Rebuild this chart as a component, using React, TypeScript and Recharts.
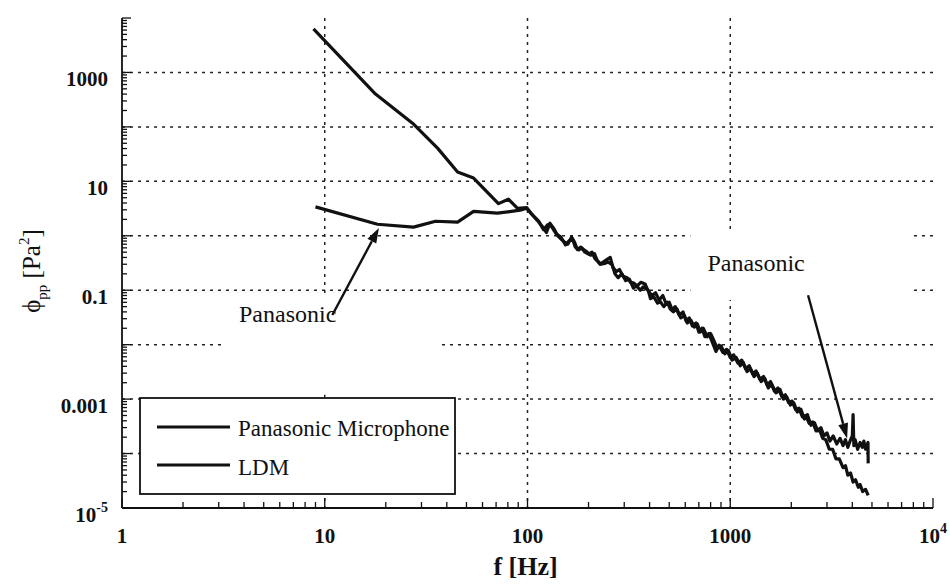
import React from "react";
import {
  ComposedChart,
  Line,
  XAxis,
  YAxis,
  CartesianGrid,
  ReferenceArea,
  ReferenceLine,
} from "recharts";

const FONT = "Liberation Serif, Times New Roman, DejaVu Serif, serif";

// axis decades and tick labels
const xDecades = [1, 10, 100, 1000, 10000];
const xTickLabels = ["1", "10", "100", "1000", "10^4"];
const yDecades = [1e-5, 1e-4, 1e-3, 1e-2, 1e-1, 1, 10, 100, 1000, 10000];
const yLabelValues = [1e-5, 1e-3, 1e-1, 10, 1000];
const yTickLabels = ["10^-5", "0.001", "0.1", "10", "1000"];
const minorSteps = [2, 3, 4, 5, 6, 7, 8, 9];
const xGridValues = [10, 100, 1000];
const yGridValues = [1e-4, 1e-3, 1e-2, 1e-1, 1, 10, 100, 1000];
const xDomain = [1, 10000];
const yDomain = [1e-5, 10000];

// Panasonic microphone spectrum
const pFreq = [
  9.0, 18.2, 27.4, 35.2, 45.2, 54.2, 71, 92, 99, 106, 113, 120, 126, 131, 138, 146, 154, 160, 167, 172,
  179, 185, 192, 200, 208, 215, 222, 230, 240, 250, 262, 270, 280, 292, 305, 318, 333, 345, 360, 372,
  394, 404, 420, 438, 452, 470, 490, 506, 524, 545, 570, 595, 614, 640, 665, 688, 712, 736, 770, 800,
  830, 863, 900, 940, 980, 1020, 1070, 1120, 1160, 1210, 1260, 1310, 1360, 1420, 1480, 1540, 1600, 1680, 1760, 1830,
  1900, 1980, 2060, 2140, 2230, 2320, 2400, 2500, 2600, 2700, 2800, 2900, 3000, 3100, 3220, 3350, 3480, 3600, 3700, 3800,
  3900, 4000, 4035, 4070, 4130, 4250, 4370, 4480, 4560, 4650, 4780, 4790,
];
const pVal = [
  3.4, 1.63, 1.44, 1.85, 1.78, 2.8, 2.6, 2.95, 3.2, 2.4, 1.9, 1.3, 1.6, 1.5, 1.1, 0.95, 0.68, 0.8, 0.86, 0.62,
  0.55, 0.6, 0.5, 0.46, 0.5, 0.38, 0.34, 0.3, 0.31, 0.33, 0.29, 0.2, 0.17, 0.2, 0.15, 0.16, 0.11, 0.12, 0.1, 0.115,
  0.1, 0.07, 0.075, 0.058, 0.062, 0.05, 0.06, 0.045, 0.04, 0.046, 0.031, 0.034, 0.025, 0.028, 0.021, 0.024, 0.017, 0.02, 0.014, 0.016,
  0.012, 0.0085, 0.0095, 0.0068, 0.0078, 0.0052, 0.0058, 0.0041, 0.0047, 0.0032, 0.0036, 0.0026, 0.003, 0.0021, 0.0024, 0.0016, 0.0019, 0.0013, 0.0015, 0.001,
  0.0011, 0.00078, 0.00085, 0.00058, 0.00065, 0.00043, 0.00052, 0.00033, 0.00037, 0.00026, 0.0003, 0.00021, 0.00024, 0.00017, 0.00021, 0.00015, 0.00019, 0.00014, 0.00018, 0.00013,
  0.00017, 0.00021, 0.00052, 0.00014, 0.00018, 0.00012, 0.00016, 0.00013, 0.00017, 0.00012, 0.00016, 0.000066,
];

// LDM spectrum
const lFreq = [
  8.8, 17.8, 27.1, 36, 45.2, 54.2, 71.9, 80.5, 89.3, 99, 104, 112, 118, 124, 129, 135, 141, 150, 158, 165,
  171, 176, 183, 190, 197, 205, 214, 220, 228, 236, 245, 256, 264, 275, 284, 296, 310, 322, 335, 348,
  362, 380, 392, 410, 428, 446, 465, 484, 500, 518, 535, 560, 585, 606, 628, 650, 678, 700, 725, 750,
  785, 820, 850, 880, 920, 960, 1000, 1040, 1090, 1140, 1190, 1240, 1290, 1340, 1400, 1460, 1520, 1580, 1650, 1720,
  1800, 1870, 1940, 2020, 2100, 2180, 2270, 2360, 2450, 2550, 2650, 2750, 2860, 2960, 3080, 3200, 3320, 3450, 3600, 3700,
  3800, 3920, 4035, 4150, 4280, 4370, 4500, 4650, 4790,
];
const lVal = [
  6300, 400, 117, 40.7, 14.8, 11.5, 3.9, 4.7, 3.2, 3.3, 2.6, 1.9, 1.5, 1.15, 1.7, 1.35, 1.0, 0.8, 0.7, 0.95,
  0.75, 0.56, 0.62, 0.55, 0.5, 0.44, 0.47, 0.36, 0.3, 0.33, 0.36, 0.4, 0.26, 0.22, 0.24, 0.18, 0.17, 0.14, 0.135, 0.12,
  0.14, 0.13, 0.1, 0.08, 0.09, 0.066, 0.08, 0.055, 0.06, 0.043, 0.05, 0.035, 0.04, 0.027, 0.031, 0.022, 0.025, 0.017, 0.02, 0.014,
  0.016, 0.0105, 0.0075, 0.0098, 0.0072, 0.0082, 0.0058, 0.0065, 0.0046, 0.0052, 0.0036, 0.0041, 0.0029, 0.0033, 0.0023, 0.0026, 0.0018, 0.0021, 0.0014, 0.0016,
  0.0011, 0.0012, 0.00086, 0.00092, 0.00064, 0.00068, 0.00047, 0.0005, 0.00036, 0.00038, 0.00026, 0.00028, 0.00019, 0.00018, 0.00012, 0.00012, 0.00008, 0.00008, 0.000055, 0.00006,
  0.00004, 0.000044, 0.00003, 0.000033, 0.000024, 0.000027, 0.00002, 0.000022, 0.000017,
];

const panasonicData = pFreq.map((f, i) => ({ f, v: pVal[i] }));
const ldmData = lFreq.map((f, i) => ({ f, v: lVal[i] }));

const withMinors = (decades: number[]) =>
  decades.flatMap((d, i) => (i < decades.length - 1 ? [d, ...minorSteps.map((m) => d * m)] : [d]));
const xTicks = withMinors(xDecades);
const yTicks = withMinors(yDecades);

const same = (a: number, b: number) => Math.abs(Math.log10(a / b)) < 1e-6;
const isDecade = (list: number[], v: number) => list.some((d) => same(d, v));

// place a value on a log axis; use the axis scale when the grid hands one over
const logPos = (axis: any, v: number, start: number, size: number, dom: number[], flip: boolean) => {
  const s = axis && axis.scale;
  if (typeof s === "function") return s(v);
  if (s && typeof s.map === "function") return s.map(v);
  const t = (Math.log10(v) - Math.log10(dom[0])) / (Math.log10(dom[1]) - Math.log10(dom[0]));
  return flip ? start + size * (1 - t) : start + size * t;
};

const serif = { fontFamily: FONT };

const TickText = ({ x, y, label, anchor }: any) => {
  const [base, exp] = label.split("^");
  return (
    <text x={x} y={y} textAnchor={anchor} style={serif} fontSize={21} fontWeight="bold" fill="#111">
      {base}
      {exp && (
        <tspan dy={-10} fontSize={14}>
          {exp}
        </tspan>
      )}
    </text>
  );
};

const BottomTick = (props: any) => {
  const { x, y, payload } = props;
  const major = isDecade(xDecades, payload.value);
  const idx = xDecades.findIndex((d) => same(d, payload.value));
  return (
    <g>
      <line x1={x} x2={x} y1={y} y2={y - (major ? 10 : 6)} stroke="#111" strokeWidth={1.3} />
      {idx >= 0 && <TickText x={x} y={y + 35} label={xTickLabels[idx]} anchor="middle" />}
    </g>
  );
};

const TopTick = (props: any) => {
  const { x, y, payload } = props;
  const major = isDecade(xDecades, payload.value);
  return <line x1={x} x2={x} y1={y} y2={y + (major ? 10 : 6)} stroke="#111" strokeWidth={1.3} />;
};

const LeftTick = (props: any) => {
  const { x, y, payload } = props;
  const major = isDecade(yDecades, payload.value);
  const idx = yLabelValues.findIndex((d) => same(d, payload.value));
  return (
    <g>
      <line x1={x} x2={x + (major ? 9 : 5)} y1={y} y2={y} stroke="#111" strokeWidth={1.3} />
      {idx >= 0 && <TickText x={x - 14} y={y + 14} label={yTickLabels[idx]} anchor="end" />}
    </g>
  );
};

const RightTick = (props: any) => {
  const { x, y, payload } = props;
  const major = isDecade(yDecades, payload.value);
  return <line x1={x} x2={x - (major ? 9 : 5)} y1={y} y2={y} stroke="#111" strokeWidth={1.3} />;
};

const YLabel = (props: any) => {
  const vb = props.viewBox;
  const cx = vb.x + 40;
  const cy = vb.y + vb.height / 2 + 8;
  return (
    <text
      x={cx}
      y={cy}
      transform={`rotate(-90 ${cx} ${cy})`}
      textAnchor="middle"
      style={serif}
      fontSize={25}
      fill="#111"
    >
      ϕ
      <tspan dy={7} fontSize={15}>
        pp
      </tspan>
      <tspan dy={-7}> [Pa</tspan>
      <tspan dy={-11} fontSize={15}>
        2
      </tspan>
      <tspan dy={11}>]</tspan>
    </text>
  );
};

const XLabel = (props: any) => {
  const vb = props.viewBox;
  return (
    <text
      x={vb.x + vb.width / 2 - 2}
      y={vb.y + 67}
      textAnchor="middle"
      style={serif}
      fontSize={26}
      fontWeight="bold"
      fill="#111"
    >
      f [Hz]
    </text>
  );
};

// arrow with its annotation text, drawn from tail (first point) to head
const arrowShape = (text: string, tx: number, ty: number, anchor: string) => (props: any) => {
  const { x1, y1, x2, y2 } = props;
  const a = Math.atan2(y2 - y1, x2 - x1);
  const len = 15;
  const w = 5;
  const bx = x2 - len * Math.cos(a);
  const by = y2 - len * Math.sin(a);
  const px = -Math.sin(a) * w;
  const py = Math.cos(a) * w;
  return (
    <g>
      <line x1={x1} y1={y1} x2={bx} y2={by} stroke="#111" strokeWidth={2.4} />
      <polygon points={`${x2},${y2} ${bx + px},${by + py} ${bx - px},${by - py}`} fill="#111" />
      <text x={x1 + tx} y={y1 + ty} textAnchor={anchor} style={serif} fontSize={24} fill="#111">
        {text}
      </text>
    </g>
  );
};

export default function App() {
  return (
    <div style={{ position: "absolute", left: 0, top: 0, width: 950, height: 586, background: "#fff" }}>
      <ComposedChart width={950} height={586} margin={{ top: 18, right: 17, bottom: 0, left: 0 }}>
        <CartesianGrid
          stroke="#222"
          strokeWidth={1.5}
          strokeDasharray="3 5"
          horizontalCoordinatesGenerator={(p: any) =>
            yGridValues.map((v) =>
              logPos(p.yAxis, v, p.offset.top, p.offset.height, yDomain, true)
            )
          }
          verticalCoordinatesGenerator={(p: any) =>
            xGridValues.map((v) =>
              logPos(p.xAxis, v, p.offset.left, p.offset.width, xDomain, false)
            )
          }
        />
        <XAxis
          dataKey="f"
          type="number"
          scale="log"
          domain={xDomain}
          allowDataOverflow
          ticks={xTicks}
          interval={0}
          tickSize={0}
          tickMargin={0}
          height={78}
          tick={BottomTick}
          axisLine={{ stroke: "#111", strokeWidth: 1.8 }}
          label={<XLabel />}
        />
        <XAxis
          xAxisId="top"
          orientation="top"
          dataKey="f"
          type="number"
          scale="log"
          domain={xDomain}
          allowDataOverflow
          ticks={xTicks}
          interval={0}
          tickSize={0}
          tickMargin={0}
          height={0}
          tick={TopTick}
          axisLine={{ stroke: "#111", strokeWidth: 1.8 }}
        />
        <YAxis
          type="number"
          scale="log"
          domain={yDomain}
          allowDataOverflow
          ticks={yTicks}
          interval={0}
          tickSize={0}
          tickMargin={0}
          width={122}
          tick={LeftTick}
          axisLine={{ stroke: "#111", strokeWidth: 1.8 }}
          label={<YLabel />}
        />
        <YAxis
          yAxisId="right"
          orientation="right"
          type="number"
          scale="log"
          domain={yDomain}
          allowDataOverflow
          ticks={yTicks}
          interval={0}
          tickSize={0}
          tickMargin={0}
          width={0}
          tick={RightTick}
          axisLine={{ stroke: "#111", strokeWidth: 1.8 }}
        />
        <ReferenceArea x1={3.1} x2={37} y1={0.0012} y2={0.082} fill="#fff" fillOpacity={1} stroke="none" />
        <ReferenceArea x1={636} x2={7960} y1={0.066} y2={1.3} fill="#fff" fillOpacity={1} stroke="none" />
        <Line
          data={ldmData}
          dataKey="v"
          type="linear"
          stroke="#111"
          strokeWidth={3.2}
          strokeLinejoin="round"
          dot={false}
          isAnimationActive={false}
        />
        <Line
          data={panasonicData}
          dataKey="v"
          type="linear"
          stroke="#111"
          strokeWidth={3.2}
          strokeLinejoin="round"
          dot={false}
          isAnimationActive={false}
        />
        <ReferenceLine
          segment={[
            { x: 10.9, y: 0.035 },
            { x: 18.5, y: 1.39 },
          ]}
          shape={arrowShape("Panasonic", 4, 7, "end")}
        />
        <ReferenceLine
          segment={[
            { x: 2420, y: 0.081 },
            { x: 3770, y: 0.00019 },
          ]}
          shape={arrowShape("Panasonic", -52, -24, "middle")}
        />
      </ComposedChart>
      <svg
        width={950}
        height={586}
        style={{ position: "absolute", left: 0, top: 0, pointerEvents: "none" }}
      >
        <rect x={140} y={398} width={315} height={96} fill="#fff" stroke="#111" strokeWidth={1.8} />
        <line x1={157} x2={230} y1={427} y2={427} stroke="#111" strokeWidth={3} />
        <text x={238} y={436} style={serif} fontSize={23} fill="#111">
          Panasonic Microphone
        </text>
        <line x1={157} x2={230} y1={465} y2={465} stroke="#111" strokeWidth={3} />
        <text x={238} y={475} style={serif} fontSize={23} fill="#111">
          LDM
        </text>
      </svg>
    </div>
  );
}
